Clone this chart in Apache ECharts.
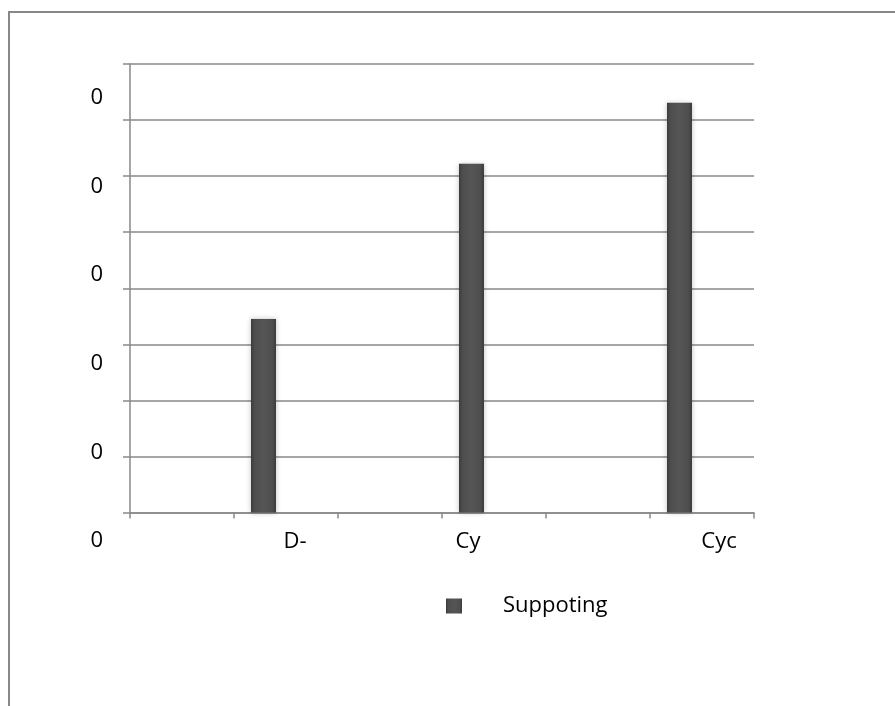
<!DOCTYPE html>
<html>
<head>
<meta charset="utf-8">
<script src="https://cdn.jsdelivr.net/npm/echarts@6/dist/echarts.min.js"></script>
<style>html,body{margin:0;padding:0;background:#fff}#c{width:895px;height:706px}</style>
</head>
<body>
<div id="c"></div>
<script>
const categories = ['', 'D-', '', 'Cy', '', 'Cyc'];
const supporting = [null, 3.45, null, 6.22, null, 7.31];
const spacer = [null, null, null, null, null, null];
const yTickLabels = ['0', '0', '0', '0', '0', '0'];
const seriesName = 'Suppoting';

const FONT = 'Open Sans';
const labelShift = { 'D-': [0, 0, 0, 18], 'Cy': [0, 52, 0, 0], 'Cyc': [0, 0, 0, 34] };

const chart = echarts.init(document.getElementById('c'));
chart.setOption({
  animation: false,
  graphic: [{
    type: 'rect', shape: { x: 9, y: 12, width: 900, height: 720 },
    style: { fill: 'none', stroke: '#888', lineWidth: 2 }, silent: true
  }],
  grid: [
    { left: 130, right: 141, top: 64, bottom: 193.5 },
    { left: 130, right: 141, top: 98, bottom: 165 }
  ],
  legend: {
    data: [seriesName], left: 441, top: 590, itemWidth: 16, itemHeight: 15,
    icon: 'rect',
    textStyle: { fontFamily: FONT, fontSize: 22, color: '#000', padding: [0, 0, 0, 36] }
  },
  xAxis: [{
    gridIndex: 0, type: 'category',
    data: categories.map(c => ({ value: c, textStyle: { padding: labelShift[c] || 0 } })),
    axisLine: { lineStyle: { color: '#898989', width: 1.5 } },
    axisTick: { show: true, length: 6, lineStyle: { color: '#898989', width: 1.5 } },
    axisLabel: { interval: 0, margin: 18, fontFamily: FONT, fontSize: 22, color: '#000' }
  }, {
    gridIndex: 1, type: 'category', data: categories, show: false
  }],
  yAxis: [{
    gridIndex: 0, type: 'value', min: 0, max: 8, interval: 1,
    axisLine: { show: true, lineStyle: { color: '#898989', width: 1.5 } },
    axisTick: { show: true, length: 7, lineStyle: { color: '#898989', width: 1.5 } },
    axisLabel: { show: false },
    splitLine: { lineStyle: { color: '#898989', width: 1.5 } }
  }, {
    gridIndex: 1, type: 'value', min: 0, max: 5, interval: 1,
    axisLine: { show: false }, axisTick: { show: false }, splitLine: { show: false },
    axisLabel: {
      margin: 27, fontFamily: FONT, fontSize: 22, color: '#000',
      formatter: (v) => yTickLabels[Math.round(v)]
    }
  }],
  series: [{
    name: seriesName, type: 'bar', xAxisIndex: 0, yAxisIndex: 0,
    data: supporting, barWidth: 25, barGap: '80%',
    itemStyle: {
      color: new echarts.graphic.LinearGradient(0, 0, 1, 0, [
        { offset: 0, color: '#3c3c3c' },
        { offset: 0.15, color: '#4e4e4e' },
        { offset: 0.5, color: '#555555' },
        { offset: 0.85, color: '#4e4e4e' },
        { offset: 1, color: '#3c3c3c' }
      ]),
      shadowColor: 'rgba(0,0,0,0.25)', shadowBlur: 5
    }
  }, {
    name: 'spacer', type: 'bar', xAxisIndex: 0, yAxisIndex: 0,
    data: spacer, barWidth: 25
  }]
});
</script>
</body>
</html>
